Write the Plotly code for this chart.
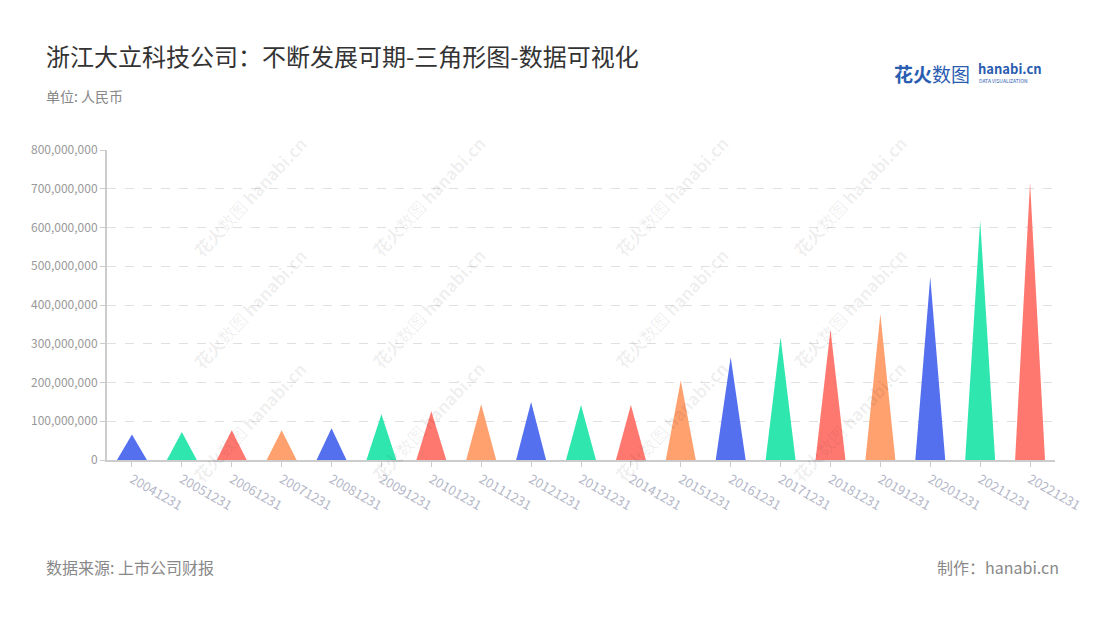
import plotly.graph_objects as go

categories = ["20041231", "20051231", "20061231", "20071231", "20081231", "20091231",
              "20101231", "20111231", "20121231", "20131231", "20141231", "20151231",
              "20161231", "20171231", "20181231", "20191231", "20201231", "20211231",
              "20221231"]
values = [66e6, 72e6, 77e6, 77e6, 82e6, 118e6, 126e6, 144e6, 150e6, 142e6, 142e6,
          205e6, 265e6, 317e6, 337e6, 377e6, 472e6, 617e6, 716e6]
palette = ["#5470ee", "#2ee6ae", "#ff7870", "#ffa06f"]
y_ticks = [0, 100e6, 200e6, 300e6, 400e6, 500e6, 600e6, 700e6, 800e6]

FONT = "Noto Sans CJK SC"
half = 0.3

# page offset (body margin) and plot area in page pixels
OFF = 8
L, R, T, B = 107, 1055, 150, 460
W, H = R - L, B - T


def px(x):
    return (x - L) / W


def py(y):
    return (B - y) / H


fig = go.Figure()
for i, (c, v) in enumerate(zip(categories, values)):
    col = palette[i % len(palette)]
    fig.add_trace(go.Scatter(
        x=[i - half, i, i + half, i - half], y=[0, v, 0, 0],
        mode="lines", fill="toself", fillcolor=col,
        line=dict(width=0, color=col), hoverinfo="skip", showlegend=False,
        name=c))

# watermarks
for wy in [128, 308, 490]:
    for wx in [185, 428, 671, 914]:
        fig.add_annotation(xref="paper", yref="paper", x=px(wx), y=py(wy),
                           text="<b>花火</b>数图 <b>hanabi.cn</b>", textangle=-47, showarrow=False,
                           font=dict(family=FONT, size=17, color="rgba(0,0,0,0.07)"))

fig.update_layout(
    width=1100, height=620,
    paper_bgcolor="white", plot_bgcolor="white",
    margin=dict(l=L - OFF, r=1100 - (R - OFF), t=T - OFF, b=620 - (B - OFF),
                autoexpand=False),
    font=dict(family=FONT),
    xaxis=dict(
        range=[-0.5, len(categories) - 0.5],
        tickmode="array", tickvals=list(range(len(categories))), ticktext=categories,
        tickangle=30, tickfont=dict(size=13, color="#b4b7c8"),
        showgrid=False, zeroline=False,
        showline=True, linecolor="#cccccc", linewidth=2,
        ticks="outside", ticklen=5, tickcolor="#cccccc",
    ),
    yaxis=dict(
        range=[0, 800e6], tickmode="array", tickvals=y_ticks,
        tickformat=",d", tickfont=dict(size=12, color="#999999"),
        showgrid=True, gridcolor="#e0e0e0", griddash="dash", gridwidth=1,
        zeroline=False,
        showline=True, linecolor="#cccccc", linewidth=2,
        ticks="outside", ticklen=5, tickcolor="#cccccc",
    ),
)

fig.add_annotation(xref="paper", yref="paper", x=px(44), y=py(55),
                   xanchor="left", yanchor="middle", showarrow=False,
                   text="浙江大立科技公司：不断发展可期-三角形图-数据可视化",
                   font=dict(family=FONT, size=24, color="#333333"))
fig.add_annotation(xref="paper", yref="paper", x=px(44), y=py(96),
                   xanchor="left", yanchor="middle", showarrow=False,
                   text="单位: 人民币", font=dict(family=FONT, size=14, color="#888888"))
fig.add_annotation(xref="paper", yref="paper", x=px(44), y=py(567),
                   xanchor="left", yanchor="middle", showarrow=False,
                   text="数据来源: 上市公司财报", font=dict(family=FONT, size=16, color="#888888"))
fig.add_annotation(xref="paper", yref="paper", x=px(1061), y=py(567),
                   xanchor="right", yanchor="middle", showarrow=False,
                   text="制作：hanabi.cn", font=dict(family=FONT, size=16, color="#888888"))
# logo
fig.add_annotation(xref="paper", yref="paper", x=px(892), y=py(73),
                   xanchor="left", yanchor="middle", showarrow=False,
                   text="<b>花火</b>数图", font=dict(family=FONT, size=19, color="#2a5db0"))
fig.add_annotation(xref="paper", yref="paper", x=px(976), y=py(68),
                   xanchor="left", yanchor="middle", showarrow=False,
                   text="<b>hanabi.cn</b>", font=dict(family=FONT, size=13, color="#2a5db0"))
fig.add_annotation(xref="paper", yref="paper", x=px(977), y=py(81),
                   xanchor="left", yanchor="middle", showarrow=False,
                   text="DATA VISUALIZATION", font=dict(family=FONT, size=5, color="#2a5db0"))

fig.write_html("out.html")
